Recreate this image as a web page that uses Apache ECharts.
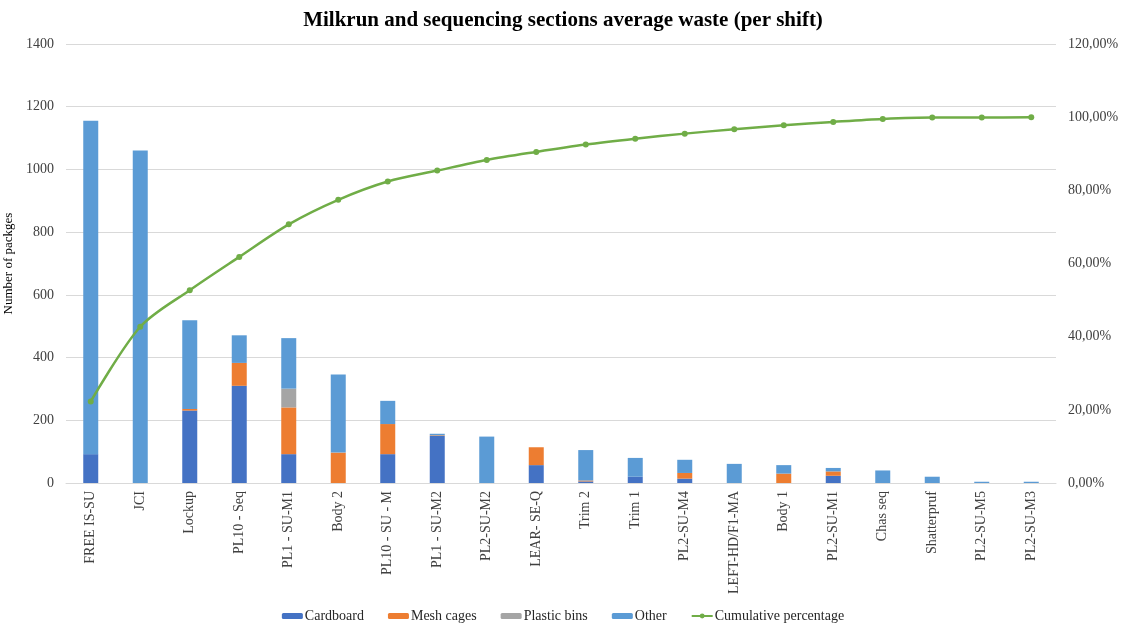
<!DOCTYPE html>
<html>
<head>
<meta charset="utf-8">
<script src="https://cdn.jsdelivr.net/npm/echarts@6/dist/echarts.min.js"></script>
<style>
  html, body { margin: 0; padding: 0; background: #fff; }
  #main { width: 1126px; height: 628px; }
</style>
</head>
<body>
<div id="main"></div>
<script>
const categories = ['FREE IS-SU', 'JCI', 'Lockup', 'PL10 - Seq', 'PL1 - SU-M1', 'Body 2', 'PL10 - SU - M',
    'PL1 - SU-M2', 'PL2-SU-M2', 'LEAR- SE-Q', 'Trim 2', 'Trim 1', 'PL2-SU-M4', 'LEFT-HD/F1-MA', 'Body 1',
    'PL2-SU-M1', 'Chas seq', 'Shatterpruf', 'PL2-SU-M5', 'PL2-SU-M3']
const cardboard = [92, 0, 231, 310, 92, 0, 92, 150, 0, 57, 5, 20, 14, 0, 0, 23, 0, 0, 0, 0]
const meshCages = [0, 0, 5, 73, 149, 97, 96, 2, 0, 57, 3, 0, 18, 0, 30, 14, 0, 0, 0, 0]
const plasticBins = [0, 0, 0, 0, 60, 0, 0, 0, 0, 0, 0, 0, 0, 0, 0, 0, 0, 0, 0, 0]
const other = [1063, 1060, 283, 88, 161, 249, 74, 5, 148, 0, 97, 60, 42, 61, 27, 11, 40, 20, 4, 4]
const cumulative = [22.3, 42.7, 52.7, 61.8, 70.7, 77.4, 82.4, 85.4, 88.3, 90.5, 92.5, 94.1, 95.5, 96.7,
    97.8, 98.7, 99.5, 99.9, 99.9, 100]

const font = '"Liberation Serif", "Times New Roman", serif'
const chart = echarts.init(document.getElementById('main'))

function barSeries(name, data, color) {
    return {
        name,
        type: 'bar',
        stack: 'waste',
        data,
        barWidth: 15,
        itemStyle: { color },
        emphasis: { disabled: true }
    }
}

const option = {
    animation: false,
    textStyle: { fontFamily: font },
    title: {
        text: 'Milkrun and sequencing sections average waste (per shift)',
        left: 'center',
        top: 5,
        textStyle: { fontFamily: font, fontSize: 21, fontWeight: 'bold', color: '#000' }
    },
    legend: {
        bottom: 0,
        left: 'center',
        itemWidth: 21,
        itemHeight: 6,
        itemGap: 24,
        textStyle: { fontFamily: font, fontSize: 14, color: '#262626', padding: [0, 0, 0, -3] },
        data: ['Cardboard', 'Mesh cages', 'Plastic bins', 'Other', 'Cumulative percentage']
    },
    grid: { left: 66, right: 70, top: 44, bottom: 145, outerBoundsMode: 'none', containLabel: false },
    xAxis: {
        type: 'category',
        data: categories,
        axisLine: { lineStyle: { color: '#d9d9d9' } },
        axisTick: { show: false },
        axisLabel: {
            rotate: 90,
            interval: 0,
            margin: 8,
            fontFamily: font,
            fontSize: 14,
            color: '#404040'
        }
    },
    yAxis: [
        {
            type: 'value',
            min: 0,
            max: 1400,
            interval: 200,
            name: 'Number of packges',
            nameLocation: 'middle',
            nameRotate: 90,
            nameGap: 6,
            nameTextStyle: { fontFamily: font, fontSize: 13, color: '#000' },
            axisLabel: { fontFamily: font, fontSize: 14, color: '#404040', margin: 12, formatter: v => String(v) },
            splitLine: { lineStyle: { color: '#d9d9d9' } },
            axisLine: { show: false },
            axisTick: { show: false }
        },
        {
            type: 'value',
            min: 0,
            max: 120,
            interval: 20,
            position: 'right',
            axisLabel: {
                fontFamily: font,
                fontSize: 14,
                color: '#404040',
                margin: 12,
                formatter: v => v.toFixed(2).replace('.', ',') + '%'
            },
            splitLine: { show: false },
            axisLine: { show: false },
            axisTick: { show: false }
        }
    ],
    series: [
        barSeries('Cardboard', cardboard, '#4472C4'),
        barSeries('Mesh cages', meshCages, '#ED7D31'),
        barSeries('Plastic bins', plasticBins, '#A5A5A5'),
        barSeries('Other', other, '#5B9BD5'),
        {
            name: 'Cumulative percentage',
            type: 'line',
            yAxisIndex: 1,
            data: cumulative,
            smooth: 0.3,
            symbol: 'circle',
            symbolSize: 6,
            lineStyle: { color: '#70AD47', width: 2.5 },
            itemStyle: { color: '#70AD47' },
            z: 5
        }
    ]
}

chart.setOption(option)
</script>
</body>
</html>
